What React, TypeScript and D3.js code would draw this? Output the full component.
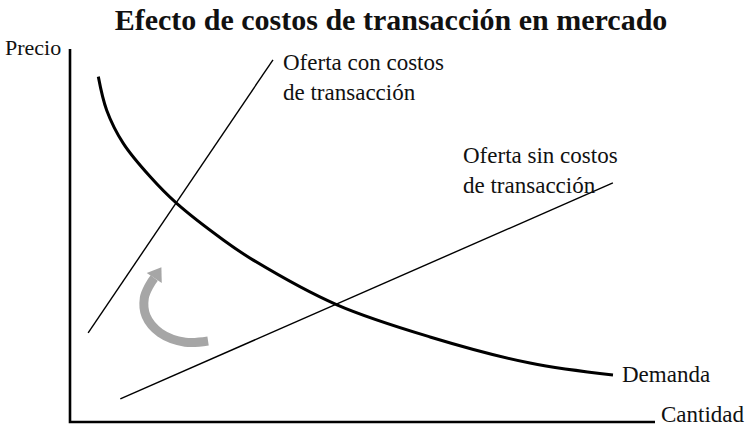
import * as d3 from "d3";
import React, { useMemo } from "react";

const title = "Efecto de costos de transacción en mercado";
const yLabel = "Precio";
const xLabel = "Cantidad";

// quantity / price, both on a 0-100 scale
const demand = [
  [4.84, 92.6],
  [6.27, 83.6],
  [9.11, 74.7],
  [13.68, 65.8],
  [18.24, 58.6],
  [26.21, 48.8],
  [31.33, 43.4],
  [45.64, 31.4],
  [61.54, 22.8],
  [78.63, 15.8],
  [92.82, 12.6],
];
const supplyWithCosts = [
  [3.1, 23.9],
  [34.7, 97.1],
];
const supplyNoCosts = [
  [8.6, 6.2],
  [92.8, 64.1],
];
// curved arrow showing the shift of supply
const shiftArrow = [
  [23.6, 21.7],
  [19.7, 21.4],
  [15.4, 23.9],
  [13.0, 28.4],
  [12.7, 33.2],
  [13.6, 36.7],
  [14.4, 38.6],
];

const supplyWithLabel = ["Oferta con costos", "de transacción"];
const supplyNoLabel = ["Oferta sin costos", "de transacción"];
const demandLabel = "Demanda";

const width = 749;
const height = 427;
const font = "'Liberation Serif', 'DejaVu Serif', serif";

function Label({ x, y, lines, size = 23 }) {
  return (
    <text x={x} y={y} fontFamily={font} fontSize={size} fill="#111">
      {lines.map((l, i) => (
        <tspan key={i} x={x} dy={i === 0 ? 0 : 30}>
          {l}
        </tspan>
      ))}
    </text>
  );
}

export default function App() {
  const x = useMemo(() => d3.scaleLinear().domain([0, 100]).range([70, 655]), []);
  const y = useMemo(() => d3.scaleLinear().domain([0, 100]).range([422, 49]), []);

  const line = d3
    .line()
    .x((d) => x(d[0]))
    .y((d) => y(d[1]));
  const curve = d3
    .line()
    .x((d) => x(d[0]))
    .y((d) => y(d[1]))
    .curve(d3.curveCatmullRom);

  // arrow head: tip pushed beyond last point along the final direction
  const n = shiftArrow.length;
  const [ax, ay] = [x(shiftArrow[n - 1][0]), y(shiftArrow[n - 1][1])];
  const [bx, by] = [x(shiftArrow[n - 2][0]), y(shiftArrow[n - 2][1])];
  const ang = Math.atan2(ay - by, ax - bx);
  const headLen = 13;
  const headHalf = 9;
  const tip = [ax + Math.cos(ang) * headLen, ay + Math.sin(ang) * headLen];
  const l1 = [ax + Math.cos(ang + Math.PI / 2) * headHalf, ay + Math.sin(ang + Math.PI / 2) * headHalf];
  const l2 = [ax - Math.cos(ang + Math.PI / 2) * headHalf, ay - Math.sin(ang + Math.PI / 2) * headHalf];

  return (
    <svg
      width={width}
      height={height}
      style={{ position: "absolute", left: 0, top: 0, background: "#fff" }}
    >
      <text
        x={391}
        y={30}
        textAnchor="middle"
        fontFamily={font}
        fontSize={30}
        fontWeight="bold"
        fill="#111"
      >
        {title}
      </text>

      {/* axes */}
      <path
        d={`M${x(0)},${y(100)}V${y(0)}H${x(100)}`}
        fill="none"
        stroke="#000"
        strokeWidth={2.6}
      />
      <text x={5} y={55} fontFamily={font} fontSize={22} fill="#111">
        {yLabel}
      </text>
      <text x={661} y={422} fontFamily={font} fontSize={23} fill="#111">
        {xLabel}
      </text>

      {/* arrow */}
      <path
        d={curve(shiftArrow)}
        fill="none"
        stroke="#a6a6a6"
        strokeWidth={9}
      />
      <path d={`M${tip}L${l1}L${l2}Z`} fill="#a6a6a6" />

      <path d={line(supplyWithCosts)} fill="none" stroke="#000" strokeWidth={1.4} />
      <path d={line(supplyNoCosts)} fill="none" stroke="#000" strokeWidth={1.4} />
      <path d={curve(demand)} fill="none" stroke="#000" strokeWidth={3} />

      <Label x={283} y={70} lines={supplyWithLabel} />
      <Label x={463} y={163} lines={supplyNoLabel} />
      <Label x={622} y={382} lines={[demandLabel]} />
    </svg>
  );
}
